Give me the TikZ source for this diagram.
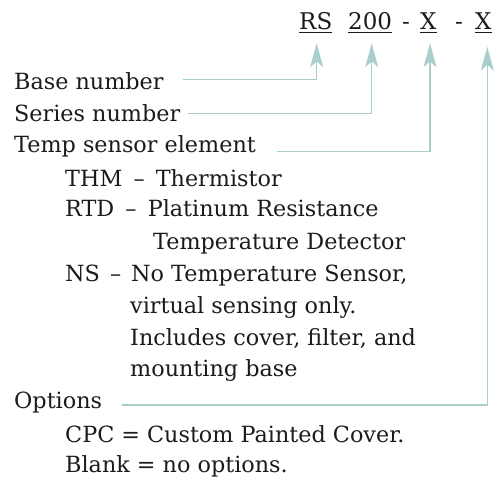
\documentclass[tikz,border=0pt]{standalone}
\usepackage{fontspec}
\setmainfont{DejaVu Serif}
\usetikzlibrary{arrows.meta}
\definecolor{connc}{HTML}{A9CFCB}
\definecolor{ink}{HTML}{1E1A1B}
\newcommand{\dsep}{\hspace{0.5em}–\hspace{0.5em}}
\tikzset{
  lbl/.style={anchor=base west, inner sep=0pt, text=ink, font=\fontsize{22.3}{26}\selectfont},
  codetxt/.style={anchor=base west, inner sep=0pt, text=ink, font=\fontsize{23}{26}\selectfont},
  link/.style={draw=connc, line width=1.5pt, -{Stealth[length=24pt,width=13pt,inset=6pt]}},
  uline/.style={draw=ink, line width=0.9pt}
}
\begin{document}
\begin{tikzpicture}[x=1pt,y=-1pt]
\useasboundingbox (0,0) rectangle (501,481);
% code line
\node[codetxt] (rs) at (299,29.3) {RS};
\node[codetxt] (n200) at (348,29.3) {200};
\node[codetxt] (d1) at (402,29.3) {-};
\node[codetxt] (x1) at (420,29.3) {X};
\node[codetxt] (d2) at (455,29.3) {-};
\node[codetxt] (x2) at (475,29.3) {X};
\draw[uline] (rs.base west) ++(0,3) -- ([yshift=-3pt]rs.base east);
\draw[uline] (n200.base west) ++(0,3) -- ([yshift=-3pt]n200.base east);
\draw[uline] (x1.base west) ++(0,3) -- ([yshift=-3pt]x1.base east);
\draw[uline] (x2.base west) ++(0,3) -- ([yshift=-3pt]x2.base east);
% labels
\node[lbl] (base) at (14,90) {Base number};
\node[lbl] (series) at (14,121.7) {Series number};
\node[lbl] (temp) at (14,153) {Temp sensor element};
\node[lbl] (thm) at (65,186.7) {THM\dsep Thermistor};
\node[lbl] (rtd) at (65,216.7) {RTD\dsep Platinum Resistance};
\node[lbl] (rtdb) at (153,250) {Temperature Detector};
\node[lbl] (ns) at (65,281.7) {NS\hspace{0.45em}–\hspace{0.45em}No Temperature Sensor,};
\node[lbl] (nsb) at (130,313) {virtual sensing only.};
\node[lbl] (nsc) at (130,345) {Includes cover, filter, and};
\node[lbl] (nsd) at (130,376.7) {mounting base};
\node[lbl] (opt) at (14,408.5) {Options};
\node[lbl] (cpc) at (65,442) {CPC = Custom Painted Cover.};
\node[lbl] (blank) at (65,472.5) {Blank = no options.};
% connector ends
\coordinate (s1) at (183,79.5);
\coordinate (s2) at (188,113.3);
\coordinate (s3) at (276.7,151.7);
\coordinate (s4) at (121.7,405);
\coordinate (t1) at (316.7,43.3);
\coordinate (t2) at (371.7,43.3);
\coordinate (t3) at (430,43.3);
\coordinate (t4) at (487.3,46.7);
\draw[link] (s1) -| (t1);
\draw[link] (s2) -| (t2);
\draw[link] (s3) -| (t3);
\draw[link] (s4) -| (t4);
\end{tikzpicture}
\end{document}
